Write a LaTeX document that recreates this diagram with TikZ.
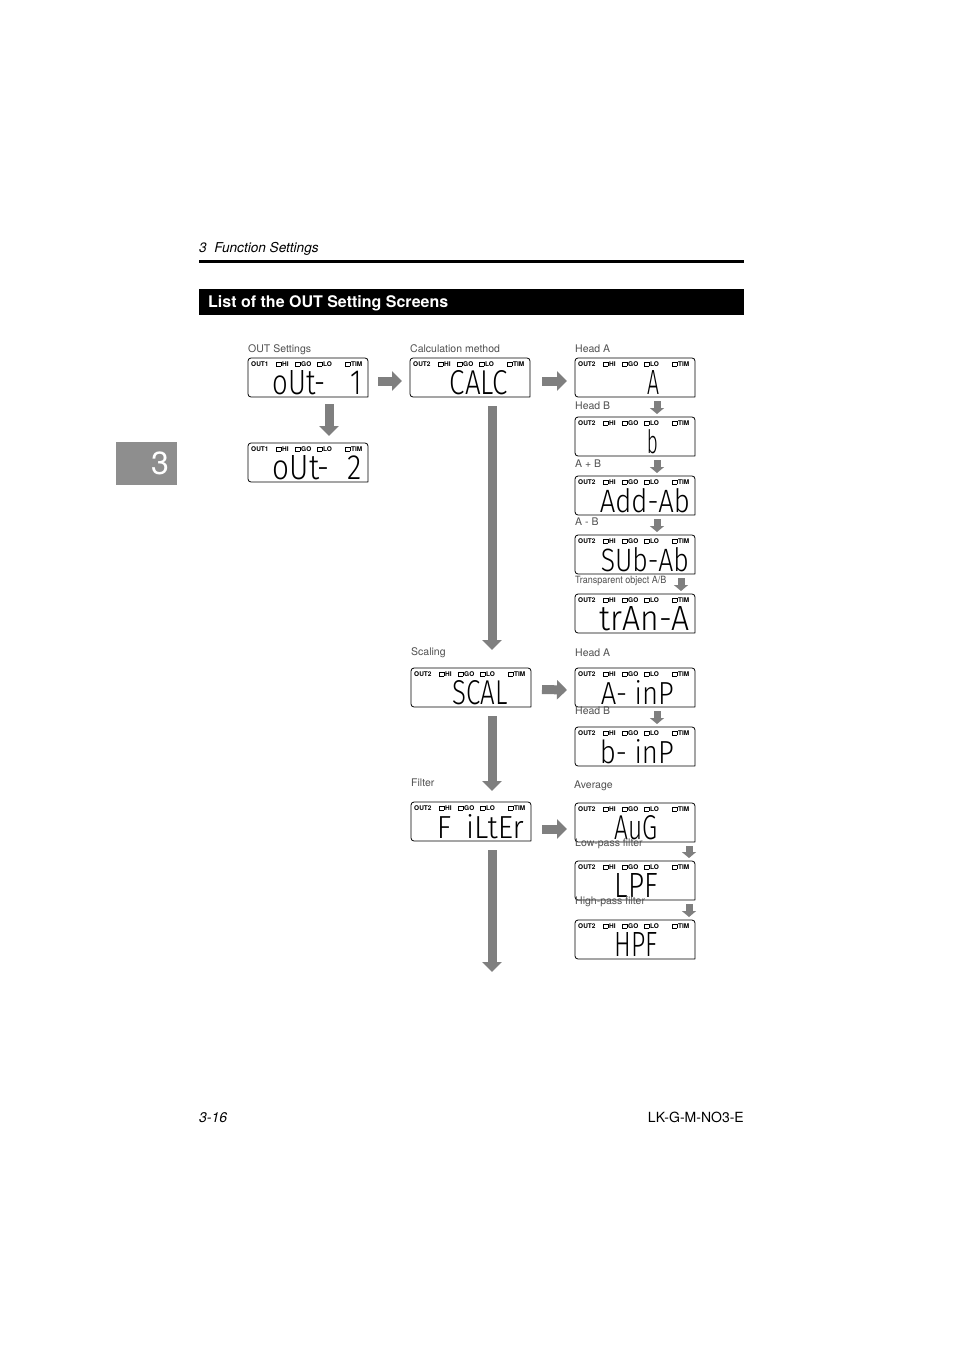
\documentclass[tikz,border=0pt]{standalone}
\usepackage{fontspec}
\setmainfont{TeX Gyre Heros}
\newfontfamily\lcdfont{Fira Sans}[UprightFont=* Light]
\usetikzlibrary{arrows.meta,calc}

\definecolor{arrowgray}{HTML}{7F7F7F}
\definecolor{tabgray}{HTML}{8E8E8E}
\definecolor{labelgray}{HTML}{505050}

\tikzset{
  lcdbox/.style={minimum width=120pt, minimum height=39pt, inner sep=0pt, outer sep=0pt, draw=none},
  lcdframe/.style={draw=black, line width=0.8pt},
  lcdflags/.style={font=\fontsize{6.5}{6.5}\selectfont\bfseries, inner sep=0pt},
  lcdread/.style={inner sep=0pt},
  screenlabel/.style={font=\fontsize{10.5}{12}\selectfont, text=labelgray, inner sep=0pt, anchor=base west},
  bigarrow/.style={arrowgray, line width=9pt, -{Triangle[length=10pt,width=19pt]}},
  smallarrow/.style={arrowgray, line width=7pt, -{Triangle[length=6pt,width=14pt]}},
}

% small indicator square of the display
\newcommand{\sqbox}{{\fboxsep=0pt\fboxrule=0.6pt\fbox{\rule{0pt}{4pt}\hspace{4pt}}}\hspace{0.8pt}}

% one display: name, top left corner, channel, reading, reading width, right gap
\newcommand{\lcdscreen}[6]{%
  \node[lcdbox, anchor=north west] (#1) at (#2) {};
  \draw[lcdframe] (#1.south east) [rounded corners=3pt] -- (#1.north east) -- (#1.north west) -- (#1.south west) [sharp corners] -- (#1.south east);
  \node[lcdflags, anchor=west] (#1-flags) at ($(#1.north west)+(3,6)$)
    {\makebox[25pt][l]{#3}\makebox[19pt][l]{\sqbox HI}\makebox[22pt][l]{\sqbox GO}\makebox[28pt][l]{\sqbox LO}\sqbox TIM};
  \node[lcdread, anchor=south east] (#1-read) at ($(#1.south east)+(-#6,-2)$)
    {\resizebox{#5pt}{24pt}{\lcdfont #4}};
}

\begin{document}
\begin{tikzpicture}[x=1pt, y=-1pt]
  \fill[white] (0,0) rectangle (954,1351);
  \useasboundingbox (0,0) rectangle (954,1351);

  % Page header
  \node[anchor=base west, inner sep=0pt, font=\itshape\fontsize{13.6}{15}\selectfont] (chapter) at (199,252) {3\ \ Function Settings};
  \draw[line width=3pt] (199,261) -- (744,261);
  \fill[black] (199,289) rectangle (744,315);
  \node[anchor=base west, inner sep=0pt, text=white, font=\bfseries\fontsize{16}{18}\selectfont] (title) at (208,307) {List of the OUT Setting Screens};

  % Chapter tab
  \fill[tabgray] (116,442) rectangle (177,485);
  \node[text=white, inner sep=0pt, font=\fontsize{32}{34}\selectfont] (tab) at (160,463) {3};

  % Displays
  \foreach \scr/\x/\y/\outch/\txt/\rw/\rg in {
      out1/248/358/OUT1/oUt-\hspace{0.9em}1/89/6,
      out2/248/443/OUT1/oUt-\hspace{0.6em}2/89/6,
      calc/410/358/OUT2/CALC/58/22,
      heada/575/358/OUT2/A/12/35,
      headb/575/417/OUT2/b/11/37,
      addab/575/476/OUT2/Add-Ab/90/5,
      subab/575/535/OUT2/SUb-Ab/88/6,
      trana/575/594/OUT2/trAn-A/90/5,
      scal/411/668/OUT2/SCAL/55/23,
      ainp/575/668/OUT2/A- inP/73/21,
      binp/575/727/OUT2/b- inP/74/21,
      filter/411/802/OUT2/F\hspace{0.5em}iLtEr/87/7,
      avg/575/803/OUT2/AuG/43/37,
      lpf/575/861/OUT2/LPF/43/37,
      hpf/575/920/OUT2/HPF/43/37}
    {\lcdscreen{\scr}{\x,\y}{\outch}{\txt}{\rw}{\rg}}

  % Labels above the displays
  \foreach \lname/\x/\y/\txt in {
      out/248/352/OUT Settings,
      calc/410/352/Calculation method,
      heada/575/352/Head A,
      headb/575/409/Head B,
      addab/575/467/A + B,
      subab/575/525/A - B,
      scal/411/655/Scaling,
      ainp/575/656/Head A,
      binp/575/714/Head B,
      filter/411/786/Filter,
      avg/574/788/Average,
      lpf/575/846/Low-pass filter,
      hpf/575/904/High-pass filter}
    {\node[screenlabel] (lbl-\lname) at (\x,\y) {\txt};}
  \node[screenlabel, xscale=0.9, font=\fontsize{10}{12}\selectfont] (lbl-trana) at (575,583) {Transparent object A/B};

  % Main flow
  \draw[bigarrow] ($(out1.south)+(21,7)$) -- ($(out2.north)+(21,-7)$);
  \draw[bigarrow] ($(out1.east)+(10,3.5)$) -- ($(calc.west)+(-8,3.5)$);
  \draw[bigarrow] ($(calc.east)+(12,3.5)$) -- ($(heada.west)+(-8,3.5)$);
  \draw[bigarrow] ($(calc.south)+(22,9)$) -- ($(scal.north)+(21,-18)$);
  \draw[bigarrow] ($(scal.east)+(11,2)$) -- ($(ainp.west)+(-8,2.5)$);
  \draw[bigarrow] ($(scal.south)+(21,9)$) -- ($(filter.north)+(21,-11)$);
  \draw[bigarrow] ($(filter.east)+(11,7.5)$) -- ($(avg.west)+(-8,6.5)$);
  \coordinate (filter-next) at ($(filter.south)+(21,131)$);
  \draw[bigarrow] ($(filter.south)+(21,9)$) -- (filter-next);

  % Sub menus
  \foreach \from/\to/\dx in {heada/headb/22, headb/addab/22, addab/subab/22, subab/trana/46,
                             ainp/binp/22, avg/lpf/54, lpf/hpf/54}
    {\draw[smallarrow] ($(\from.south)+(\dx,4)$) -- ($(\to.north)+(\dx,-3)$);}

  % Page footer
  \node[anchor=base west, inner sep=0pt, font=\itshape\fontsize{14}{16}\selectfont] (pageno) at (199,1122) {3-16};
  \node[anchor=base east, inner sep=0pt, font=\fontsize{14}{16}\selectfont] (docno) at (744,1122) {LK-G-M-NO3-E};
\end{tikzpicture}
\end{document}
